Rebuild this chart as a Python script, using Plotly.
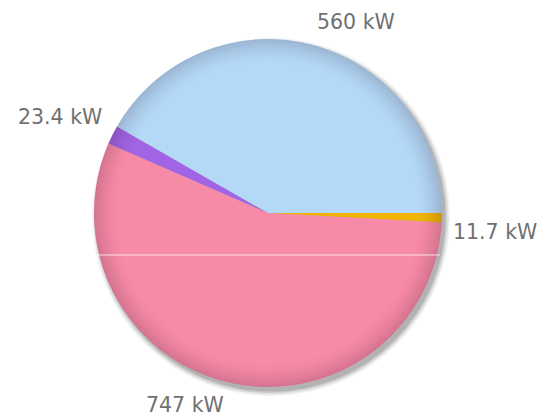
import math
import plotly.graph_objects as go

# clockwise from 3 o'clock
labels = ["D", "C", "B", "A"]
values = [11.7, 747, 23.4, 560]
text_labels = ["11.7 kW", "747 kW", "23.4 kW", "560 kW"]
colors = ["#f0b400", "#f78ba7", "#a064e4", "#b4d9f7"]

W, H = 540, 418
cx, cy, R = 268, 213, 174
LABEL_R = 183

fig = go.Figure()
fig.add_trace(go.Pie(
    labels=labels, values=values,
    textinfo="none",
    sort=False, direction="clockwise", rotation=90,
    marker=dict(colors=colors, line=dict(width=0)),
    domain=dict(x=[(cx - R) / W, (cx + R) / W], y=[(H - cy - R) / H, (H - cy + R) / H]),
    showlegend=False, hoverinfo="label+value",
))

# labels at slice mid-angles, corner anchored toward the centre
total = sum(values)
ang = 0.0
annotations = []
for v, t in zip(values, text_labels):
    span = 360.0 * v / total
    mid = math.radians(ang - span / 2)  # clockwise => negative angles
    ang -= span
    c, s = math.cos(mid), math.sin(mid)
    px = cx + LABEL_R * c
    py = cy - LABEL_R * s
    annotations.append(dict(
        x=px / W, y=(H - py) / H, xref="paper", yref="paper",
        text=t, showarrow=False,
        xanchor="left" if c >= 0 else "right",
        yanchor="bottom" if s >= 0 else "top",
        font=dict(family="DejaVu Sans", size=20.5, color="#707070"),
    ))

def circ(r, dx=0, dy=0):
    return dict(x0=(cx - r + dx) / W, x1=(cx + r + dx) / W,
                y0=(H - cy - r - dy) / H, y1=(H - cy + r - dy) / H)

shapes = []
# drop shadow
for i, a in enumerate([0.05, 0.07, 0.09, 0.12]):
    shapes.append(dict(type="circle", xref="paper", yref="paper", layer="below",
                       line=dict(width=0), fillcolor=f"rgba(0,0,0,{a})",
                       **circ(R + 5 - i * 1.5, 3, 4)))
# rim darkening
for k in range(12):
    a = 0.16 * (1 - k / 12) ** 1.6
    shapes.append(dict(type="circle", xref="paper", yref="paper", layer="above",
                       line=dict(width=2, color=f"rgba(40,0,30,{a:.3f})"),
                       fillcolor="rgba(0,0,0,0)", **circ(R - 1 - 2 * k)))
# gloss line
shapes.append(dict(type="line", xref="paper", yref="paper", layer="above",
                   x0=(cx - R + 2) / W, x1=(cx + R - 2) / W,
                   y0=(H - (cy + 42)) / H, y1=(H - (cy + 42)) / H,
                   line=dict(width=1, color="rgba(255,255,255,0.75)")))

fig.update_layout(width=W, height=H, margin=dict(l=0, r=0, t=0, b=0),
                  paper_bgcolor="white", plot_bgcolor="white",
                  shapes=shapes, annotations=annotations)
fig.write_html("out.html", config={"displayModeBar": False},
               post_script="document.body.style.margin='0';document.body.style.overflow='hidden';")
